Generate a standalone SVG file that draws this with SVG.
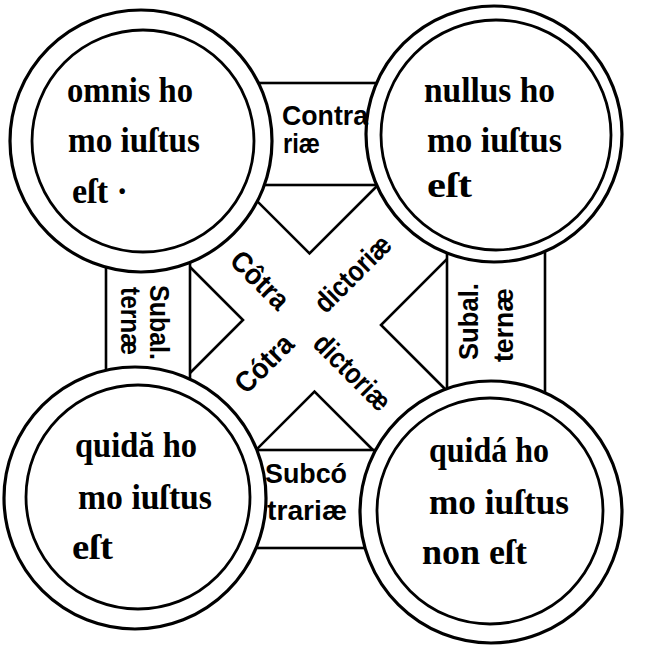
<svg xmlns="http://www.w3.org/2000/svg" width="657" height="659" viewBox="0 0 657 659">
<style>
.ln{fill:none;stroke:#000;stroke-width:2.6;stroke-linejoin:miter;stroke-linecap:round}
.band{fill:#fff;stroke:#000;stroke-width:2.6}
.outer{fill:#fff;stroke:#000;stroke-width:3.2}
.inner{fill:none;stroke:#000;stroke-width:2.8}
.ct{font-family:"Liberation Serif","DejaVu Serif",serif;font-weight:bold;font-size:36px;fill:#000}
.bt{font-family:"Liberation Sans","DejaVu Sans",sans-serif;font-weight:bold;font-size:27px;fill:#000}
.xt{font-family:"Liberation Sans","DejaVu Sans",sans-serif;font-weight:bold;font-size:29px;fill:#000}
</style>
<rect width="657" height="659" fill="#fff"/>
<g id="connectors">
  <g id="contradictoriae">
    <polyline class="ln" points="250,194 309.5,253.5 378,185"/>
    <polyline class="ln" points="184,261 243,320 183,380"/>
    <polyline class="ln" points="455,251 381,325 450,394"/>
    <polyline class="ln" points="252,454 314.5,391.5 380,457"/>
  </g>
  <rect id="contrariae" class="band" x="200" y="83" width="240" height="102"/>
  <rect id="subalternae-left" class="band" x="106" y="230" width="84" height="180"/>
  <rect id="subalternae-right" class="band" x="447" y="230" width="98" height="190"/>
  <rect id="subcontrariae" class="band" x="200" y="450" width="240" height="98"/>
</g>
<g id="node-omnis">
  <circle class="outer" cx="141" cy="141" r="131"/>
  <circle class="inner" cx="143" cy="141" r="111"/>
  <text class="ct" x="67" y="102" textLength="126" lengthAdjust="spacingAndGlyphs">omnis ho</text>
  <text class="ct" x="68" y="152" textLength="132" lengthAdjust="spacingAndGlyphs">mo iuſtus</text>
  <text class="ct" x="72" y="203" textLength="56" lengthAdjust="spacingAndGlyphs">eſt ·</text>
</g>
<g id="node-nullus">
  <circle class="outer" cx="494" cy="134" r="128"/>
  <circle class="inner" cx="496" cy="135" r="115"/>
  <text class="ct" x="424" y="102" textLength="131" lengthAdjust="spacingAndGlyphs">nullus ho</text>
  <text class="ct" x="427" y="152" textLength="135" lengthAdjust="spacingAndGlyphs">mo iuſtus</text>
  <text class="ct" x="427" y="197" textLength="45" lengthAdjust="spacingAndGlyphs">eſt</text>
</g>
<g id="node-quidam">
  <circle class="outer" cx="135" cy="498" r="131"/>
  <circle class="inner" cx="138" cy="497" r="112"/>
  <text class="ct" x="75" y="457" textLength="122" lengthAdjust="spacingAndGlyphs">quidă ho</text>
  <text class="ct" x="78" y="509" textLength="134" lengthAdjust="spacingAndGlyphs">mo iuſtus</text>
  <text class="ct" x="72" y="559" textLength="41" lengthAdjust="spacingAndGlyphs">eſt</text>
</g>
<g id="node-quidam-non">
  <circle class="outer" cx="491" cy="512" r="131"/>
  <circle class="inner" cx="490" cy="511" r="113"/>
  <text class="ct" x="429" y="462" textLength="120" lengthAdjust="spacingAndGlyphs">quidá ho</text>
  <text class="ct" x="429" y="514" textLength="140" lengthAdjust="spacingAndGlyphs">mo iuſtus</text>
  <text class="ct" x="422" y="564" textLength="105" lengthAdjust="spacingAndGlyphs">non eſt</text>
</g>
<g id="labels">
  <text class="bt" x="282" y="125" textLength="86" lengthAdjust="spacingAndGlyphs">Contra</text>
  <text class="bt" x="283" y="153" textLength="37" lengthAdjust="spacingAndGlyphs">riæ</text>
  <text class="bt" transform="translate(150,285) rotate(90)" textLength="75" lengthAdjust="spacingAndGlyphs">Subal.</text>
  <text class="bt" transform="translate(121,287) rotate(90)" textLength="68" lengthAdjust="spacingAndGlyphs">ternæ</text>
  <text class="bt" transform="translate(478,360) rotate(-90)" textLength="77" lengthAdjust="spacingAndGlyphs">Subal.</text>
  <text class="bt" transform="translate(513,362) rotate(-90)" textLength="74" lengthAdjust="spacingAndGlyphs">ternæ</text>
  <text class="bt" x="265" y="483" textLength="82" lengthAdjust="spacingAndGlyphs">Subcó</text>
  <text class="bt" x="267" y="520" textLength="80" lengthAdjust="spacingAndGlyphs">trariæ</text>
  <text class="xt" transform="translate(260,280) rotate(45)" x="0" y="10" text-anchor="middle" textLength="70" lengthAdjust="spacingAndGlyphs">Côtra</text>
  <text class="xt" transform="translate(352.5,273.5) rotate(-45)" x="0" y="10" text-anchor="middle" textLength="96" lengthAdjust="spacingAndGlyphs">dictoriæ</text>
  <text class="xt" transform="translate(264,363.5) rotate(-45)" x="0" y="10" text-anchor="middle" textLength="70" lengthAdjust="spacingAndGlyphs">Cótra</text>
  <text class="xt" transform="translate(352.5,372) rotate(45)" x="0" y="10" text-anchor="middle" textLength="96" lengthAdjust="spacingAndGlyphs">dictoriæ</text>
</g>
</svg>
